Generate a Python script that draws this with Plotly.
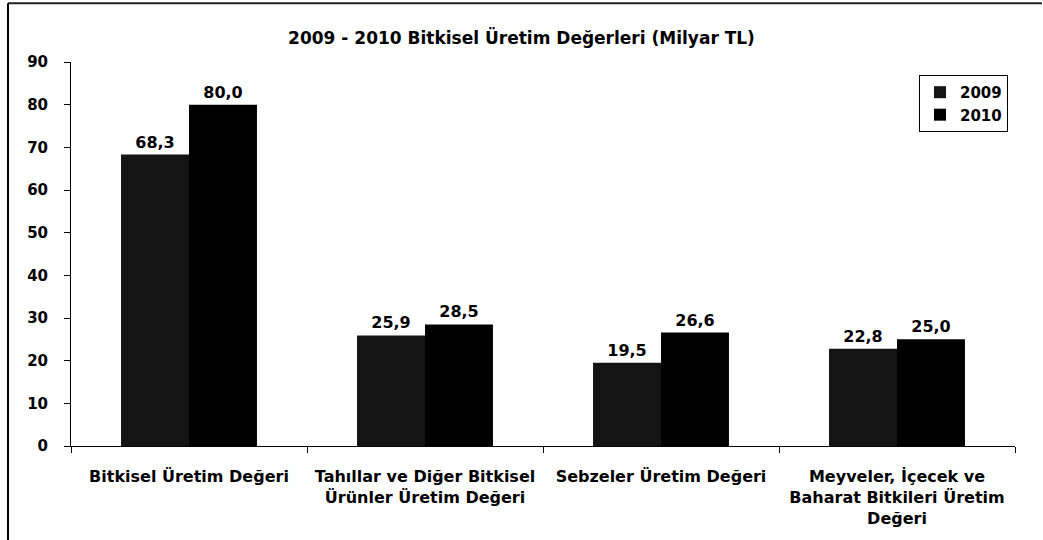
import plotly.graph_objects as go

categories = [
    "Bitkisel Üretim Değeri",
    "Tahıllar ve Diğer Bitkisel<br>Ürünler Üretim Değeri",
    "Sebzeler Üretim Değeri",
    "Meyveler, İçecek ve<br>Baharat Bitkileri Üretim<br>Değeri",
]
values_2009 = [68.3, 25.9, 19.5, 22.8]
values_2010 = [80.0, 28.5, 26.6, 25.0]
series_names = ["2009", "2010"]
y_ticks = [0, 10, 20, 30, 40, 50, 60, 70, 80, 90]

FONT = "DejaVu Sans, Verdana, sans-serif"

def fmt(v):
    return f"{v:.1f}".replace(".", ",")

def bold(s):
    return "<br>".join(f"<b>{p}</b>" for p in s.split("<br>"))

fig = go.Figure()
for name, vals, color in [(series_names[0], values_2009, "#141414"),
                          (series_names[1], values_2010, "#000000")]:
    fig.add_trace(go.Bar(
        x=categories, y=vals, name=bold(name),
        marker=dict(color=color, line=dict(width=0)),
        text=[bold(fmt(v)) for v in vals], textposition="outside",
        texttemplate="%{text}",
        textfont=dict(family=FONT, size=16, color="black"),
        cliponaxis=False,
    ))

W, H = 1043, 540
L, R, T, B = 71, 28, 62, 92
pw, ph = W - L - R, H - T - B

def px_x(x):
    return (x - L) / pw

def px_y(y):
    return (H - B - y) / ph

fig.update_layout(
    width=W, height=H,
    margin=dict(l=L, r=R, t=T, b=B),
    paper_bgcolor="white", plot_bgcolor="white",
    barmode="group", bargap=0.424, bargroupgap=0,
    font=dict(family=FONT, size=15, color="black"),
    title=dict(text=bold("2009 - 2010 Bitkisel Üretim Değerleri (Milyar TL)"),
               x=0.5, xanchor="center", y=1 - 38 / H, yanchor="middle",
               font=dict(family=FONT, size=17, color="black")),
    showlegend=True,
    legend=dict(x=px_x(1008), y=px_y(75), xanchor="right", yanchor="top",
                bordercolor="black", borderwidth=1, bgcolor="white",
                font=dict(family=FONT, size=15, color="black"),
                itemwidth=30, tracegroupgap=0),
    xaxis=dict(showline=True, linecolor="black", linewidth=1,
               ticks="outside", ticklen=6, tickcolor="black", tickson="boundaries",
               tickvals=categories, ticktext=[bold(c) for c in categories],
               tickfont=dict(family=FONT, size=16, color="black"),
               showgrid=False, zeroline=False, ticklabelstandoff=16),
    yaxis=dict(range=[0, 90], tickvals=y_ticks, ticktext=[bold(str(v)) for v in y_ticks],
               showline=True, linecolor="black", linewidth=1,
               ticks="outside", ticklen=6, tickcolor="black",
               tickfont=dict(family=FONT, size=15, color="black"),
               showgrid=False, zeroline=False, ticklabelstandoff=13),
)

# outer chart-area border (top and left visible in the reference)
fig.add_shape(type="line", xref="paper", yref="paper",
              x0=px_x(8), x1=px_x(W - 1), y0=px_y(3), y1=px_y(3),
              line=dict(color="#222222", width=2), layer="above")
fig.add_shape(type="line", xref="paper", yref="paper",
              x0=px_x(8), x1=px_x(8), y0=px_y(3), y1=px_y(H + 5),
              line=dict(color="black", width=2), layer="above")

fig.write_html("out.html", config={"displayModeBar": False},
               post_script="document.body.style.margin='0';document.body.style.overflow='hidden';")
